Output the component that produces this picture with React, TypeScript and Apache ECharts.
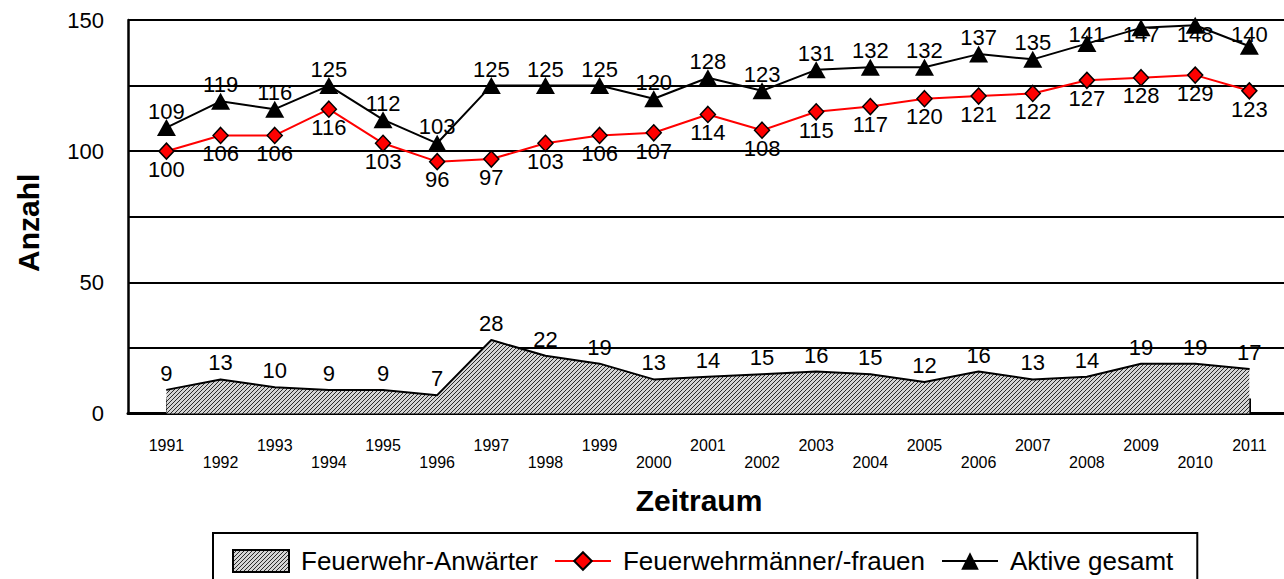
import React, { useEffect, useRef } from "react";
import * as echarts from "echarts";

const years = [1991, 1992, 1993, 1994, 1995, 1996, 1997, 1998, 1999, 2000, 2001, 2002, 2003, 2004, 2005, 2006, 2007, 2008, 2009, 2010, 2011];
const anwaerter = [9, 13, 10, 9, 9, 7, 28, 22, 19, 13, 14, 15, 16, 15, 12, 16, 13, 14, 19, 19, 17];
const maennerFrauen = [100, 106, 106, 116, 103, 96, 97, 103, 106, 107, 114, 108, 115, 117, 120, 121, 122, 127, 128, 129, 123];
const aktiveGesamt = [109, 119, 116, 125, 112, 103, 125, 125, 125, 120, 128, 123, 131, 132, 132, 137, 135, 141, 147, 148, 140];
const seriesNames = ["Feuerwehr-Anwärter", "Feuerwehrmänner/-frauen", "Aktive gesamt"];

function makeHatch(): HTMLCanvasElement {
  const c = document.createElement("canvas");
  c.width = 4;
  c.height = 4;
  const ctx = c.getContext("2d")!;
  ctx.fillStyle = "#d4d4d4";
  ctx.fillRect(0, 0, 4, 4);
  ctx.fillStyle = "#2a2a2a";
  for (let i = 0; i < 4; i++) ctx.fillRect(i, 3 - i, 1, 1);
  return c;
}

export default function App() {
  const ref = useRef<HTMLDivElement>(null);
  useEffect(() => {
    if (!ref.current) return;
    const chart = echarts.init(ref.current, undefined, { renderer: "svg" });
    const pattern: any = { image: makeHatch(), repeat: "repeat" };
    const pair = (arr: number[]) => years.map((y, i) => [y, arr[i]]);
    const labelBase = { show: true, color: "#000", fontSize: 22, fontFamily: "Liberation Sans" };
    chart.setOption({
      animation: false,
      textStyle: { fontFamily: "Liberation Sans", color: "#000" },
      grid: { left: 128, top: 20, right: 0, bottom: 165.5, containLabel: false },
      xAxis: {
        type: "value",
        min: 1990.29,
        max: 2011.64,
        name: "Zeitraum",
        nameLocation: "middle",
        nameGap: 72,
        nameTextStyle: { fontSize: 30, fontWeight: "bold", color: "#000", padding: [0, 14, 0, 0] },
        axisLine: { show: true, onZero: false, lineStyle: { color: "#000", width: 3 } },
        axisTick: { show: true, inside: true, length: 15, customValues: years, lineStyle: { color: "#000", width: 2 } },
        axisLabel: {
          customValues: years,
          margin: 24,
          fontSize: 16,
          lineHeight: 16.5,
          color: "#000",
          formatter: (v: number) => (v % 2 === 0 ? "\n" + v : String(v)),
        },
        splitLine: { show: false },
      },
      yAxis: {
        type: "value",
        min: 0,
        max: 150,
        interval: 25,
        name: "Anzahl",
        nameLocation: "middle",
        nameGap: 85,
        nameRotate: 90,
        nameTextStyle: { fontSize: 30, fontWeight: "bold", color: "#000", padding: [0, 12, 0, 0] },
        axisLine: { show: true, lineStyle: { color: "#000", width: 2.5 } },
        axisTick: { show: false },
        axisLabel: {
          margin: 24,
          fontSize: 22,
          color: "#000",
          formatter: (v: number) => (v % 50 === 0 ? String(v) : ""),
        },
        splitLine: { show: true, lineStyle: { color: "#000", width: 2 } },
      },
      legend: {
        left: 213,
        top: 533,
        orient: "horizontal",
        padding: [15, 24, 25, 19],
        itemGap: 16,
        itemWidth: 56,
        itemHeight: 22,
        borderColor: "#000",
        borderWidth: 2,
        backgroundColor: "#fff",
        textStyle: { fontSize: 26, color: "#000", fontFamily: "Liberation Sans", padding: [0, 0, 0, 7] },
        data: [
          { name: seriesNames[0], icon: "rect", itemStyle: { color: pattern, borderColor: "#000", borderWidth: 2 } },
          { name: seriesNames[1] },
          { name: seriesNames[2] },
        ],
      },
      series: [
        {
          name: seriesNames[0],
          type: "line",
          data: pair(anwaerter),
          symbol: "circle",
          symbolSize: 1,
          itemStyle: { color: "#000" },
          lineStyle: { color: "#000", width: 2 },
          areaStyle: { color: pattern, opacity: 1 },
          label: { ...labelBase, position: "top", distance: 5 },
          z: 2,
        },
        {
          name: seriesNames[1],
          type: "line",
          data: pair(maennerFrauen),
          symbol: "diamond",
          symbolSize: [15, 16],
          itemStyle: { color: "#ff0000", borderColor: "#000", borderWidth: 1.5 },
          lineStyle: { color: "#ff0000", width: 2 },
          label: { ...labelBase, position: "bottom", distance: -1.5 },
          z: 3,
        },
        {
          name: seriesNames[2],
          type: "line",
          data: pair(aktiveGesamt),
          symbol: "triangle",
          symbolSize: [19, 17],
          itemStyle: { color: "#000" },
          lineStyle: { color: "#000", width: 2 },
          label: { ...labelBase, position: "top", distance: -3 },
          z: 4,
        },
      ],
    });
    // keep labels of the top series inside the plot area (as the original does)
    const minCenter = 34;
    const adjusted = years.map((y, i) => {
      const px = chart.convertToPixel({ gridIndex: 0 }, [y, aktiveGesamt[i]]) as number[];
      const py = px[1];
      const center = py - 17;
      if (center >= minCenter) return [y, aktiveGesamt[i]];
      // label center = py - 8.5 - d - 11  => d = py - 19.5 - minCenter
      return { value: [y, aktiveGesamt[i]], label: { distance: py - 19.5 - minCenter } };
    });
    chart.setOption({ series: [{}, {}, { data: adjusted }] });
    return () => chart.dispose();
  }, []);
  return <div ref={ref} style={{ position: "fixed", left: 0, top: 0, width: 1284, height: 579, background: "#fff" }} />;
}
